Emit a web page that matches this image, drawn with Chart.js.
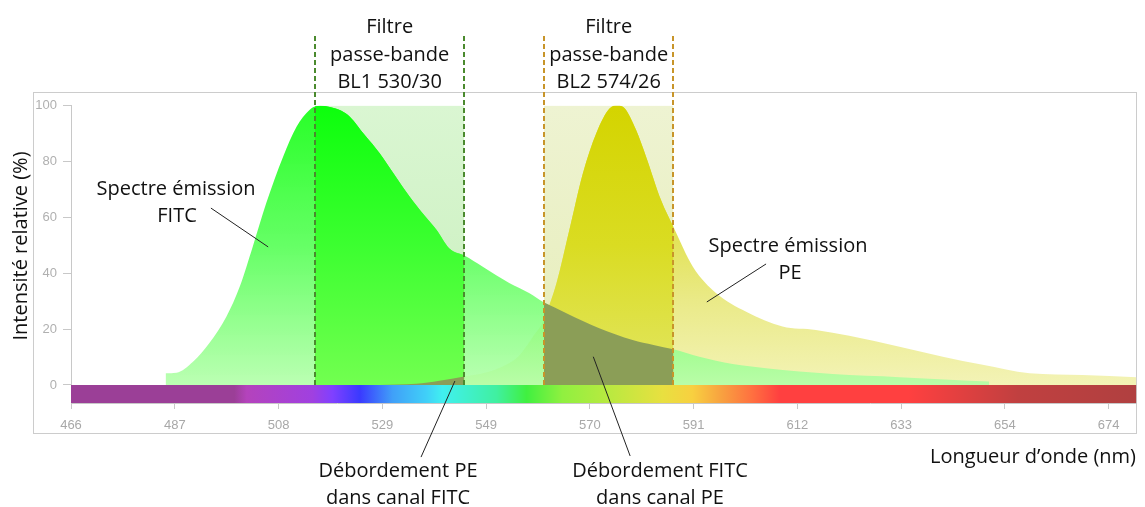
<!DOCTYPE html>
<html lang="fr">
<head>
<meta charset="utf-8">
<title>Spectres d'émission FITC / PE</title>
<script src="https://cdn.jsdelivr.net/npm/chart.js@4.4.1/dist/chart.umd.min.js"></script>
<style>
  html, body { margin: 0; padding: 0; background: #fff; }
  #wrap { width: 1145px; height: 507px; }
</style>
</head>
<body>
<div id="wrap"><canvas id="spectreChart" width="1145" height="507"></canvas></div>
<script>
// Axe des longueurs d'onde (nm)
const xMin = 466;
const xMax = 680;
const xTickStep = 20.84;
const xTickLabels = ["466", "487", "508", "529", "549", "570", "591", "612", "633", "654", "674"];

// Axe intensité (%)
const yMin = -6.45;
const yMax = 100;
const yTickLabels = [0, 20, 40, 60, 80, 100];

// Spectre émission FITC
const fitcNm = [485, 487.2, 490.5, 493.8, 497.2, 499.9, 502.5, 505.2, 508.6, 511.3, 513.9, 515, 516, 518,
  520.3, 522, 525, 528, 531, 534, 537, 539.4, 542, 545, 548.7, 554.1, 558, 561, 565.5, 572.1, 578.8,
  583, 587, 592.2, 598.9, 605.6, 612.3, 619, 632.4, 642.4, 650.4];
const fitcVal = [4.2, 4.4, 8.3, 15.0, 24.4, 35.2, 49.5, 65.0, 81.7, 92.4, 98.4, 99.6, 99.9, 99.5,
  98.1, 96.0, 89.4, 82.9, 75.1, 67.4, 60.6, 55.5, 48.8, 46.3, 42.3, 36.4, 32.9, 29.5, 25.7, 20.3, 16.1,
  14.3, 12.8, 10.1, 7.5, 6.0, 4.8, 3.9, 2.8, 1.9, 1.2];

// Spectre émission PE
const peNm = [528, 535.3, 540, 545, 548.7, 552.1, 556, 558.8, 561, 563.5, 566.1, 568.8, 571.5, 574.2,
  575.8, 577.2, 579.5, 581.5, 584.5, 587, 590.9, 595.6, 601.6, 608.9, 615.6, 622.3, 632.4, 641.1,
  649.1, 658.5, 669.1, 680];
const peVal = [0, 0.4, 1.5, 3.0, 4.2, 6.2, 10.5, 17.3, 23.3, 36.4, 55.5, 75.7, 90.1, 99.0,
  100, 99.0, 91.2, 81.7, 66.2, 56.5, 42.3, 32.8, 26.2, 20.9, 19.7, 17.6, 13.7, 10.1,
  7.2, 4.2, 3.6, 2.8];

// Filtres passe-bande (nm)
const bl1 = [515, 545];
const bl2 = [561, 587];
const bandTop = 100;
const dashTop = 125.6;

// Bande de couleurs sous l'axe
const spectrumNm = [466, 498.8, 501.3, 514.5, 518.5, 524, 530.6, 537.4, 540.6, 551.5, 557.5, 564.7,
  575.6, 584.8, 590.8, 596.8, 602.8, 608.3, 634.2, 645.2, 656.3, 680];
const spectrumColors = ["#9b3f97", "#9b3f97", "#b443bc", "#a040e0", "#8040ff", "#3a3aff", "#40a0f8",
  "#40d0f8", "#40f0f0", "#40f0a0", "#40f040", "#90f040", "#c0e840", "#e8e040", "#f8d040", "#f8a040",
  "#ff7040", "#ff4040", "#ff4040", "#e04040", "#c04040", "#b04040"];

function toPoints(nm, val) {
  return nm.map((x, i) => ({ x: x, y: val[i] }));
}

function inBand(points, band) {
  return points.filter(p => p.x >= band[0] && p.x <= band[1]);
}

// dégradé vertical, stops = [[valeur, couleur], ...] du haut vers le bas
function vGradient(stops) {
  return function (context) {
    const chart = context.chart;
    if (!chart.chartArea) return null;
    const y = chart.scales.y;
    const top = y.getPixelForValue(stops[0][0]);
    const bottom = y.getPixelForValue(stops[stops.length - 1][0]);
    const g = chart.ctx.createLinearGradient(0, top, 0, bottom);
    stops.forEach(s => g.addColorStop((y.getPixelForValue(s[0]) - top) / (bottom - top), s[1]));
    return g;
  };
}

function spectrumGradient(context) {
  const chart = context.chart;
  if (!chart.chartArea) return null;
  const x = chart.scales.x;
  const l = x.getPixelForValue(xMin);
  const r = x.getPixelForValue(xMax);
  const g = chart.ctx.createLinearGradient(l, 0, r, 0);
  spectrumNm.forEach((nm, i) => g.addColorStop((x.getPixelForValue(nm) - l) / (r - l), spectrumColors[i]));
  return g;
}

function area(label, data, color, order, smooth) {
  return {
    label: label,
    data: data,
    backgroundColor: color,
    borderColor: "transparent",
    borderWidth: 0,
    pointRadius: 0,
    fill: "origin",
    order: order,
    cubicInterpolationMode: smooth ? "monotone" : "default",
    tension: 0
  };
}

const fitc = toPoints(fitcNm, fitcVal);
const pe = toPoints(peNm, peVal);

const datasets = [
  area("Débordement FITC dans canal PE", inBand(fitc, bl2), "#8b9e57", 1, true),
  area("Débordement PE dans canal FITC", inBand(pe, bl1), "#8b9e57", 1, true),
  area("PE (BL2)", inBand(pe, bl2), vGradient([[100, "#d4d400"], [50, "#dadc22"], [0, "#e2e664"]]), 2, true),
  area("FITC (BL1)", inBand(fitc, bl1), vGradient([[100, "#0cff0c"], [50, "#3cff30"], [0, "#72ff50"]]), 3, true),
  area("FITC", fitc, vGradient([[100, "rgba(16,255,16,0.9)"], [50, "rgba(80,255,80,0.88)"], [0, "rgba(175,255,165,0.85)"]]), 4, true),
  area("PE", pe, vGradient([[60, "#e0e048"], [30, "#eaea88"], [0, "#f3f3b6"]]), 5, true),
  area("BL1", [{ x: bl1[0], y: bandTop }, { x: bl1[1], y: bandTop }], vGradient([[100, "#daf6d2"], [0, "#c8efbc"]]), 6, false),
  area("BL2", [{ x: bl2[0], y: bandTop }, { x: bl2[1], y: bandTop }], vGradient([[100, "#eef3d2"], [0, "#e6edb8"]]), 6, false),
  Object.assign(area("spectre", [{ x: xMin, y: 0 }, { x: xMax, y: 0 }], spectrumGradient, 7, false), { fill: "start" })
];

// textes et traits d'annotation
const textFont = '20px "Open Sans"';
const bandLines = [["Filtre", "passe-bande", "BL1 530/30"], ["Filtre", "passe-bande", "BL2 574/26"]];
const leaders = [
  [[494.1, 63.3], [505.6, 49.4]],
  [[605.6, 43.3], [593.7, 29.7]],
  [[543.1, 1.4], [536.3, -25.8]],
  [[570.9, 10.1], [578.3, -25.4]]
];

const annotations = {
  id: "annotations",
  beforeDraw(chart) {
    const ctx = chart.ctx;
    ctx.save();
    ctx.strokeStyle = "#cccccc";
    ctx.lineWidth = 1;
    ctx.strokeRect(33.5, 92.5, 1103, 341);
    ctx.restore();
  },
  afterDatasetsDraw(chart) {
    const ctx = chart.ctx;
    const xs = chart.scales.x, ys = chart.scales.y;
    ctx.save();
    ctx.lineWidth = 2;
    ctx.setLineDash([5, 3]);
    [[bl1, "#4b8a2e"], [bl2, "#c8952a"]].forEach(function (b) {
      ctx.strokeStyle = b[1];
      b[0].forEach(function (nm) {
        const px = Math.round(xs.getPixelForValue(nm));
        ctx.beginPath();
        ctx.moveTo(px, ys.getPixelForValue(0));
        ctx.lineTo(px, ys.getPixelForValue(dashTop));
        ctx.stroke();
      });
    });
    ctx.restore();
  },
  afterDraw(chart) {
    const ctx = chart.ctx;
    const xs = chart.scales.x, ys = chart.scales.y;
    ctx.save();
    ctx.strokeStyle = "#222";
    ctx.lineWidth = 1;
    leaders.forEach(function (l) {
      ctx.beginPath();
      ctx.moveTo(xs.getPixelForValue(l[0][0]), ys.getPixelForValue(l[0][1]));
      ctx.lineTo(xs.getPixelForValue(l[1][0]), ys.getPixelForValue(l[1][1]));
      ctx.stroke();
    });

    ctx.fillStyle = "#111";
    ctx.font = textFont;
    ctx.textAlign = "center";
    ctx.textBaseline = "alphabetic";
    [bl1, bl2].forEach(function (b, i) {
      const cx = xs.getPixelForValue((b[0] + b[1]) / 2);
      bandLines[i].forEach((t, k) => ctx.fillText(t, cx, 33 + k * 27.5));
    });
    ctx.fillText("Spectre émission", 176, 195);
    ctx.fillText("FITC", 177, 222);
    ctx.fillText("Spectre émission", 788, 252);
    ctx.fillText("PE", 790, 279);
    ctx.fillText("Débordement PE", 398, 477);
    ctx.fillText("dans canal FITC", 398, 504);
    ctx.fillText("Débordement FITC", 660, 477);
    ctx.fillText("dans canal PE", 660, 504);
    ctx.textAlign = "right";
    ctx.fillText("Longueur d’onde (nm)", 1136, 463);

    ctx.translate(21, 246);
    ctx.rotate(-Math.PI / 2);
    ctx.textAlign = "center";
    ctx.textBaseline = "middle";
    ctx.fillText("Intensité relative (%)", 0, 0);
    ctx.restore();
  }
};

const tickFont = { family: '"Liberation Sans", Arial, sans-serif', size: 13 };

new Chart(document.getElementById("spectreChart"), {
  type: "line",
  data: { datasets: datasets },
  options: {
    responsive: false,
    animation: false,
    events: [],
    layout: { padding: { top: 105.5, right: 8.5, left: 0, bottom: 0 } },
    plugins: { legend: { display: false }, tooltip: { enabled: false } },
    scales: {
      x: {
        type: "linear",
        min: xMin,
        max: xMax,
        afterBuildTicks: function (axis) {
          axis.ticks = xTickLabels.map((l, i) => ({ value: xMin + i * xTickStep }));
        },
        afterFit: function (axis) { axis.height = 104; },
        ticks: {
          autoSkip: false,
          maxRotation: 0,
          padding: 9,
          color: "#a8a8a8",
          font: tickFont,
          callback: (v, i) => xTickLabels[i]
        },
        grid: { drawOnChartArea: false, tickLength: 6, tickColor: "#c8c8c8" },
        border: { color: "#c8c8c8" }
      },
      y: {
        min: yMin,
        max: yMax,
        afterBuildTicks: function (axis) {
          axis.ticks = yTickLabels.map(v => ({ value: v }));
        },
        afterFit: function (axis) { axis.width = 71; },
        ticks: { padding: 6, color: "#b0b0b0", font: tickFont },
        grid: { drawOnChartArea: false, tickLength: 8, tickColor: "#c8c8c8" },
        border: { color: "#c8c8c8" }
      }
    }
  },
  plugins: [annotations]
});
</script>
</body>
</html>
